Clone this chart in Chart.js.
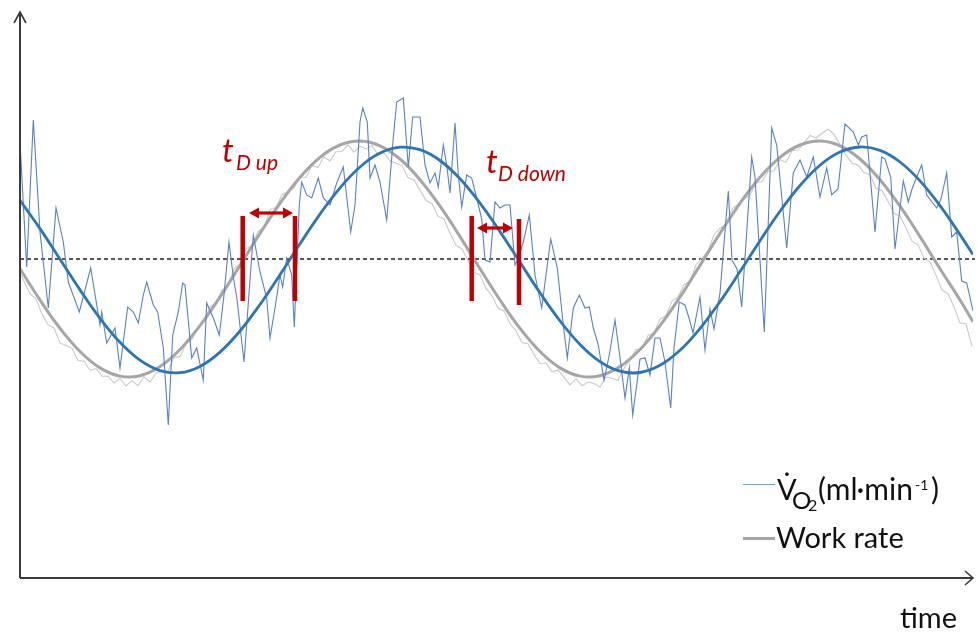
<!DOCTYPE html>
<html><head><meta charset="utf-8">
<script src="https://cdn.jsdelivr.net/npm/chart.js@4"></script>
<style>
html,body{margin:0;padding:0;background:#fff;}
#wrap{position:relative;width:977px;height:634px;overflow:hidden;font-family:Lato,"Open Sans",sans-serif;}
canvas{position:absolute;left:0;top:0;}
.a{position:absolute;white-space:nowrap;line-height:1;}
.red{color:#C00000;font-style:italic;}
.blk{color:#111;}
.sw{position:absolute;}
</style></head><body>
<div id="wrap">
<canvas id="c" width="977" height="634"></canvas>
<span class="a red" style="left:222px;top:133px;font-size:33px">t</span>
<span class="a red" style="left:236px;top:151px;font-size:21px">D up</span>
<span class="a red" style="left:486px;top:144px;font-size:33px">t</span>
<span class="a red" style="left:498px;top:162px;font-size:21px">D down</span>
<div class="sw" style="left:743px;top:484px;width:32px;height:1.4px;background:#7d9bd2"></div>
<span class="a blk" style="left:777px;top:474px;font-size:29px">V&#x307;</span>
<span class="a blk" style="left:792px;top:488px;font-size:24px">O</span>
<span class="a blk" style="left:808px;top:497px;font-size:16px">2</span>
<span class="a blk" style="left:818px;top:473px;font-size:30px">(ml·min</span>
<span class="a blk" style="left:915px;top:478px;font-size:14px">-1</span>
<span class="a blk" style="left:931px;top:473px;font-size:30px">)</span>
<div class="sw" style="left:743px;top:537px;width:32px;height:2.5px;background:#a6a6a6"></div>
<span class="a blk" style="left:776px;top:522px;font-size:29px">Work rate</span>
<span class="a blk" style="left:900px;top:602px;font-size:29px">time</span>
</div>
<script>
// ---- data (time in chart units, response relative to mean level) ----
const smoothTime = [20,40,60,80,100,120,140,160,180,200,220,240,260,280,300,320,340,360,380,400,420,440,460,480,500,520,540,560,580,600,620,640,660,680,700,720,740,760,780,800,820,840,860,880,900,920,940,960,973];
const workRateSmooth = [-9.7,-41.0,-69.4,-92.5,-108.9,-117.1,-116.7,-107.6,-90.5,-66.7,-38.0,-6.4,25.6,55.7,81.7,101.7,114.0,118.0,113.2,100.0,79.3,52.8,22.4,-9.7,-41.0,-69.4,-92.5,-108.9,-117.1,-116.7,-107.6,-90.5,-66.7,-38.0,-6.4,25.6,55.7,81.7,101.7,114.0,118.0,113.2,100.0,79.3,52.8,22.4,-9.7,-41.0,-62.7];
const vo2Smooth = [58.6,30.4,-0.2,-30.9,-59.3,-83.3,-101.2,-111.6,-113.7,-107.4,-93.1,-72.0,-45.5,-15.7,15.2,44.9,71.2,92.0,105.9,111.8,109.3,98.5,80.2,55.9,27.4,-3.3,-33.8,-61.9,-85.4,-102.6,-112.2,-113.5,-106.3,-91.3,-69.5,-42.6,-12.6,18.3,47.7,73.5,93.8,106.9,112.0,108.6,97.0,78.1,53.3,24.4,4.4];

const workRateRawTime = [18,24,30,36,42,48,54,60,66,72,78,84,90,96,102,108,114,120,126,132,138,144,150,156,162,168,174,180,186,192,198,204,210,216,222,228,234,240,246,252,258,264,270,276,282,288,294,300,306,312,318,324,330,336,342,348,354,360,366,372,378,384,390,396,402,408,414,420,426,432,438,444,450,456,462,468,474,480,486,492,498,504,510,516,522,528,534,540,546,552,558,564,570,576,582,588,594,600,606,612,618,624,630,636,642,648,654,660,666,672,678,684,690,696,702,708,714,720,726,732,738,744,750,756,762,768,774,780,786,792,798,804,810,816,822,828,834,840,846,852,858,864,870,876,882,888,894,900,906,912,918,924,930,936,942,948,954,960,966,972];
const workRateRaw = [-9.7,-22.3,-34.7,-40.0,-55.0,-65.7,-69.0,-83.9,-86.4,-89.3,-101.5,-102.2,-111.2,-109.6,-117.2,-117.0,-124.1,-119.5,-127.0,-121.7,-126.7,-117.8,-123.2,-113.9,-112.8,-112.0,-98.5,-97.4,-84.7,-80.5,-67.7,-62.5,-47.9,-44.0,-30.8,-27.4,-9.9,-5.2,10.4,13.1,27.6,30.9,49.0,51.8,64.3,67.4,70.9,82.0,81.5,93.4,91.7,102.2,98.1,107.2,107.5,114.1,106.9,112.9,110.1,113.5,104.2,106.1,98.2,95.7,93.4,81.5,79.0,68.9,58.4,55.3,42.8,40.0,25.9,13.6,10.1,-1.6,-13.2,-15.9,-29.4,-36.8,-49.0,-51.9,-64.5,-71.7,-83.5,-84.7,-95.4,-104.5,-104.0,-112.8,-110.9,-118.2,-125.8,-119.7,-126.7,-123.0,-124.5,-128.1,-118.0,-119.2,-121.6,-109.2,-101.2,-90.5,-90.3,-76.4,-73.9,-60.0,-56.7,-42.0,-38.0,-25.7,-22.3,-5.7,1.0,7.7,24.3,30.7,34.0,50.0,54.7,60.0,63.9,76.4,77.3,87.5,88.2,99.2,96.6,108.2,109.0,116.1,123.5,121.0,125.7,129.7,124.8,114.2,103.9,95.8,94.0,86.5,84.4,70.7,68.5,57.7,45.5,42.9,31.0,17.8,14.4,0.9,-2.8,-16.4,-31.1,-34.6,-47.9,-64.0,-64.8,-87.3];

const vo2RawTime = [20,26.7,33.3,40,48.3,56,63.3,68.3,79.3,90.7,100,101.7,106.7,115,120,127.7,133.3,138.3,143.3,146.7,153.3,157.7,163.3,168.3,172.7,178.3,182.7,185,191.7,196.7,203.3,206.7,213.3,219.3,224,229,233.3,237,244,253.3,260,266.7,270,275,280,282.7,286.7,291.7,294.3,299.3,301.7,306.7,311.7,318.3,323.3,330,336.7,343.3,350.7,355,360,362.7,367.3,370,375,380,386.7,393.3,396.7,403.3,408.3,412.7,420,425,430,435,438.3,443.3,446.7,450,455,458.3,461.7,466.7,471.7,476.7,481.7,485,490,495,500,505,510,515,518.3,523.3,529.3,535,541.7,550.7,557.3,563.3,567.3,573.3,579.3,585,589.3,593.3,598.3,604,609.3,615,619.3,625,629.3,632.7,636.7,640,645,650,655,660,665,670.7,674,679.3,685,689.3,693,700,705,710,714,720,728.3,732,737,741.7,751.7,755,764.3,771.7,776.7,786.7,793.3,800,806.7,813.3,820,826.7,831.7,838,845,853.3,858.3,861.7,866.7,875,881.7,885,890.7,895,903.3,908.3,912,916.7,921.7,926.7,936.7,941,946.7,951.7,956.7,961.7,966.7,973];
const vo2Raw = [117,-8,139,27,-49,51,17,-23,-53,-9,-66,-53,-84,-69,-109,-48,-53,-64,-36,-23,-46,-53,-89,-166,-76,-53,-24,-26,-99,-89,-121,-44,-59,-76,-36,17,-18,-40,-103,24,-13,-39,-79,-49,-16,-28,1,-16,-68,54,77,64,61,81,61,54,76,92,27,54,137,151,137,81,94,77,39,121,157,161,92,142,142,94,76,86,72,114,94,66,136,84,52,84,81,61,40,-1,-3,57,51,54,54,-6,1,17,44,-16,-49,20,-9,-66,-99,-49,-36,-49,-48,-69,-86,-121,-96,-61,-93,-139,-109,-156,-126,-100,-99,-116,-79,-79,-103,-149,-89,-43,-46,-60,-74,-38,-91,-50,-70,-34,68,-1,-10,-48,102,82,-73,131,114,11,86,99,82,102,62,91,64,70,135,127,114,122,124,27,102,100,82,10,78,57,70,82,94,64,51,60,86,22,27,-22,-24,-52];

const meanLevel = 0;
const tdUpTimes = [242.7, 295];
const tdUpTop = [43, 43];
const tdUpBottom = [-42, -42];
const tdUpArrow = [249, 293];
const tdUpArrowLevel = 46;
const tdDownTimes = [471.7, 519];
const tdDownTop = [43, 40];
const tdDownBottom = [-42, -46];
const tdDownArrow = [477, 513];
const tdDownArrowLevel = 31;

const xy = (xs, ys) => xs.map((x, i) => ({x, y: ys[i]}));
const RED = '#C00000';

const barSets = [];
tdUpTimes.forEach((t, i) => barSets.push({data: [{x: t, y: tdUpTop[i]}, {x: t, y: tdUpBottom[i]}]}));
tdDownTimes.forEach((t, i) => barSets.push({data: [{x: t, y: tdDownTop[i]}, {x: t, y: tdDownBottom[i]}]}));

const decor = {
  id: 'decor',
  beforeDatasetsDraw(chart) {
    const {ctx, chartArea: a, scales: {y}} = chart;
    const yy = y.getPixelForValue(meanLevel);
    ctx.save();
    ctx.strokeStyle = '#222';
    ctx.lineWidth = 1.3;
    ctx.setLineDash([4, 3]);
    ctx.beginPath();
    ctx.moveTo(a.left, yy);
    ctx.lineTo(a.right + 2, yy);
    ctx.stroke();
    ctx.restore();
  },
  afterDatasetsDraw(chart) {
    const {ctx, chartArea: a, scales: {x, y}} = chart;
    ctx.save();
    ctx.strokeStyle = '#3a3a3a';
    ctx.lineWidth = 2;
    ctx.beginPath();
    ctx.moveTo(a.left, a.bottom);
    ctx.lineTo(a.left, a.top);
    ctx.moveTo(a.left, a.bottom);
    ctx.lineTo(a.right, a.bottom);
    ctx.stroke();
    ctx.lineWidth = 1.6;
    ctx.beginPath();
    ctx.moveTo(a.left - 6, a.top + 11);
    ctx.lineTo(a.left, a.top);
    ctx.lineTo(a.left + 6, a.top + 11);
    ctx.moveTo(a.right - 8, a.bottom - 7);
    ctx.lineTo(a.right, a.bottom);
    ctx.lineTo(a.right - 8, a.bottom + 7);
    ctx.stroke();
    const arrow = (x1, x2, lvl) => {
      const p1 = x.getPixelForValue(x1), p2 = x.getPixelForValue(x2), py = y.getPixelForValue(lvl);
      const h = 10, w = 5.5;
      ctx.strokeStyle = RED; ctx.fillStyle = RED; ctx.lineWidth = 3.2;
      ctx.beginPath(); ctx.moveTo(p1 + h - 1, py); ctx.lineTo(p2 - h + 1, py); ctx.stroke();
      ctx.beginPath(); ctx.moveTo(p1, py); ctx.lineTo(p1 + h, py - w); ctx.lineTo(p1 + h, py + w); ctx.closePath(); ctx.fill();
      ctx.beginPath(); ctx.moveTo(p2, py); ctx.lineTo(p2 - h, py - w); ctx.lineTo(p2 - h, py + w); ctx.closePath(); ctx.fill();
    };
    arrow(tdUpArrow[0], tdUpArrow[1], tdUpArrowLevel);
    arrow(tdDownArrow[0], tdDownArrow[1], tdDownArrowLevel);
    ctx.restore();
  }
};

new Chart(document.getElementById('c'), {
  type: 'line',
  data: {
    datasets: [
      {label: 'Work rate raw', data: xy(workRateRawTime, workRateRaw), borderColor: '#c9c9c9', borderWidth: 1.1, pointRadius: 0, tension: 0, order: 5},
      {label: 'Work rate', data: xy(smoothTime, workRateSmooth), borderColor: '#a6a6a6', borderWidth: 3, pointRadius: 0, tension: 0.4, order: 4},
      {label: 'VO2 raw', data: xy(vo2RawTime, vo2Raw), borderColor: '#5a80c6', borderWidth: 1.1, pointRadius: 0, tension: 0, order: 3},
      {label: 'VO2', data: xy(smoothTime, vo2Smooth), borderColor: '#2e75b6', borderWidth: 2.8, pointRadius: 0, tension: 0.4, order: 2},
      ...barSets.map(b => ({data: b.data, borderColor: RED, borderWidth: 4.5, pointRadius: 0, order: 1, borderCapStyle: 'butt'}))
    ]
  },
  options: {
    responsive: false,
    animation: false,
    events: [],
    layout: {padding: {left: 20, right: 4, top: 12, bottom: 56}},
    plugins: {legend: {display: false}, tooltip: {enabled: false}},
    scales: {
      x: {type: 'linear', min: 20, max: 973, display: false},
      y: {type: 'linear', min: -319, max: 247, display: false}
    }
  },
  plugins: [decor]
});
</script>
</body></html>
